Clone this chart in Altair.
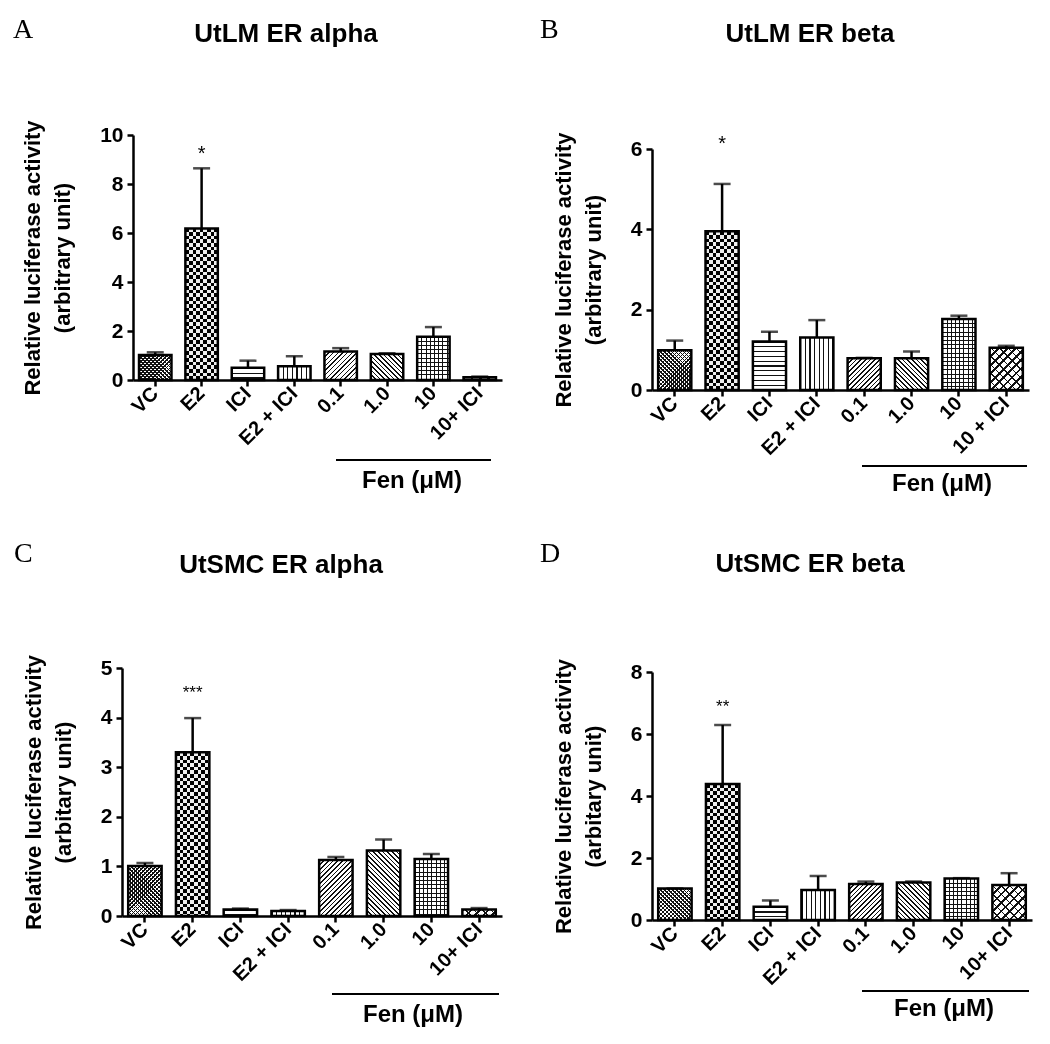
import math
import altair as alt
import pandas as pd

# ---------------- data ----------------
cats_A = ["VC", "E2", "ICI", "E2 + ICI", "0.1", "1.0", "10", "10+ ICI"]
cats_B = ["VC", "E2", "ICI", "E2 + ICI", "0.1", "1.0", "10", "10 + ICI"]
cats_C = ["VC", "E2", "ICI", "E2 + ICI", "0.1", "1.0", "10", "10+ ICI"]
cats_D = ["VC", "E2", "ICI", "E2 + ICI", "0.1", "1.0", "10", "10+ ICI"]

mean_A = [1.02, 6.18, 0.50, 0.56, 1.16, 1.06, 1.77, 0.11]
err_A = [0.11, 2.46, 0.29, 0.41, 0.14, 0.03, 0.39, 0.03]
mean_B = [0.99, 3.95, 1.21, 1.31, 0.79, 0.79, 1.77, 1.05]
err_B = [0.24, 1.18, 0.24, 0.43, 0.01, 0.17, 0.08, 0.05]
mean_C = [1.01, 3.30, 0.13, 0.10, 1.13, 1.32, 1.15, 0.13]
err_C = [0.06, 0.69, 0.02, 0.02, 0.06, 0.22, 0.10, 0.03]
mean_D = [1.02, 4.39, 0.43, 0.97, 1.16, 1.21, 1.34, 1.13]
err_D = [0.00, 1.90, 0.20, 0.45, 0.08, 0.03, 0.01, 0.38]

star_text = ["*", "*", "***", "**"]
star_y = [9.45, 6.27, 4.59, 7.03]

yticks_A = [0, 2, 4, 6, 8, 10]
yticks_B = [0, 2, 4, 6]
yticks_C = [0, 1, 2, 3, 4, 5]
yticks_D = [0, 2, 4, 6, 8]

titles = ["UtLM ER alpha", "UtLM ER beta", "UtSMC ER alpha", "UtSMC ER beta"]
letters = ["A", "B", "C", "D"]
ytitle_top = ["Relative luciferase activity", "(arbitrary unit)"]
ytitle_bottom = ["Relative luciferase activity", "(arbitary unit)"]
fen_label = "Fen (\u03bcM)"

# ---------------- styling ----------------
SANS = "Liberation Sans"
SERIF = "Liberation Serif"
INK = "#111111"
CLEAR = "rgba(0,0,0,0)"
PI, PO = 0.30, 0.13

# pattern per bar position: (direction, period px, line px, background, blend)
PATTERNS = [
    [("d1", 2.8, 0.95, "white", None), ("d2", 2.8, 0.95, CLEAR, None)],
    [("h", 7.2, 3.6, "white", None), ("v", 7.2, 3.6, "white", "difference")],
    [("h", 4.8, 1.2, "white", None)],
    [("v", 4.6, 1.2, "white", None)],
    [("d1", 3.3, 1.1, "white", None)],
    [("d2", 3.3, 1.1, "white", None)],
    [("h", 4.2, 1.0, "white", None), ("v", 4.2, 1.0, CLEAR, None)],
    [("d1", 6.0, 1.8, "white", None), ("d2", 6.0, 1.0, CLEAR, None)],
]


def stripe_gradient(kind, w, h, period, lw, bg):
    h = max(h, 0.5)
    if kind == "h":
        x1, y1, x2, y2, S = 0, 0, 0, 1, h
    elif kind == "v":
        x1, y1, x2, y2, S = 0, 0, 1, 0, w
    else:
        k = (w + h) / (w * w + h * h)
        S = (w + h) / math.sqrt(2)
        if kind == "d1":
            x1, y1, x2, y2 = 0, 0, k * w, k * h
        else:
            x1, y1, x2, y2 = 0, 1, k * w, 1 - k * h
    stops = []
    n = 0
    while n * period < S:
        a = n * period
        for off, col in ((a, INK), (a + lw, INK), (a + lw, bg), (a + period, bg)):
            stops.append({"offset": round(min(off / S, 1.0), 5), "color": col})
        n += 1
    return {"gradient": "linear", "x1": x1, "y1": y1, "x2": x2, "y2": y2,
            "stops": stops}


def make_panel(cats, mean, err, stxt, sy, sfs, dmax, ticks, ytl, W, H, top,
               pos, xoff=0):
    df = pd.DataFrame({"cat": cats, "mean": mean,
                       "hi": [m + e for m, e in zip(mean, err)]})
    xaxis = alt.Axis(title=None, labelAngle=-45, labelAlign="right",
                     labelBaseline="middle", labelFontSize=20, labelPadding=4,
                     labelLimit=0)
    X = alt.X("cat:N", sort=cats, axis=xaxis,
              scale=alt.Scale(domain=cats, paddingInner=PI, paddingOuter=PO,
                              range=[xoff, xoff + W]))
    yscale = alt.Scale(domain=[0, dmax], nice=False, range=[H, top])
    yaxis = alt.Axis(values=ticks, format="d", title=ytl, labelFontSize=21,
                     labelPadding=4, titleFontSize=22, titleLineHeight=30,
                     titlePadding=25, offset=-xoff)

    def Y(field):
        return alt.Y(field, scale=yscale, axis=yaxis)

    step = W / (len(cats) - PI + 2 * PO)
    bw = step * (1 - PI)
    ppu = (H - top) / dmax

    layers = []
    for i, c in enumerate(cats):
        h = mean[i] * ppu
        for kind, period, lw, bg, blend in PATTERNS[i]:
            g = stripe_gradient(kind, bw, h, period, lw, bg)
            kw = {"fill": g}
            if blend:
                kw["blend"] = blend
            layers.append(
                alt.Chart(df).transform_filter(alt.datum.cat == c)
                .mark_bar(**kw).encode(x=X, y=Y("mean:Q")))

    layers.append(alt.Chart(df).mark_rule(color="black", strokeWidth=2.5)
                  .encode(x=X, y=Y("mean:Q"), y2="hi:Q"))
    layers.append(alt.Chart(df).mark_tick(color="black", thickness=2.5, size=17)
                  .encode(x=X, y=Y("hi:Q")))
    layers.append(alt.Chart(df).mark_bar(fillOpacity=0, stroke="black",
                                         strokeWidth=2.5)
                  .encode(x=X, y=Y("mean:Q")))

    sdf = pd.DataFrame({"cat": ["E2"], "y": [sy], "t": [stxt]})
    layers.append(alt.Chart(sdf).mark_text(font=SANS, fontSize=sfs,
                                           baseline="alphabetic",
                                           dy=0.58 * sfs, color="black")
                  .encode(x=X, y=Y("y:Q"), text="t:N"))

    (lx, ly, tx, ty, fx1, fx2, fy, ftx, fty, letter, title) = pos
    layers.append(alt.Chart(pd.DataFrame({"t": [letter]}))
                  .mark_text(font=SERIF, fontSize=28, align="left",
                             baseline="alphabetic", color="black")
                  .encode(x=alt.value(lx + xoff), y=alt.value(ly), text="t:N"))
    layers.append(alt.Chart(pd.DataFrame({"t": [title]}))
                  .mark_text(font=SANS, fontSize=26, fontWeight="bold",
                             align="center", baseline="alphabetic",
                             color="black")
                  .encode(x=alt.value(tx + xoff), y=alt.value(ty), text="t:N"))
    fdf = pd.DataFrame({"t": [fen_label]})
    layers.append(alt.Chart(fdf).mark_rule(color="black", strokeWidth=2)
                  .encode(x=alt.value(fx1 + xoff), x2=alt.value(fx2 + xoff),
                          y=alt.value(fy)))
    layers.append(alt.Chart(fdf)
                  .mark_text(font=SANS, fontSize=24, fontWeight="bold",
                             align="center", baseline="alphabetic",
                             color="black")
                  .encode(x=alt.value(ftx + xoff), y=alt.value(fty),
                          text="t:N"))

    return alt.layer(*layers).properties(width=W + xoff, height=H)


pA = make_panel(cats_A, mean_A, err_A, star_text[0], star_y[0], 20, 10,
                yticks_A, ytitle_top, 369, 245, 0,
                (-120, -97, 153, -93, 203, 358, 325, 279, 353,
                 letters[0], titles[0]), xoff=11)
pB = make_panel(cats_B, mean_B, err_B, star_text[1], star_y[1], 20, 6,
                yticks_B, ytitle_top, 377, 255, 14,
                (-112, -97, 158, -93, 210, 375, 331, 290, 356,
                 letters[1], titles[1]))
pC = make_panel(cats_C, mean_C, err_C, star_text[2], star_y[2], 17, 5,
                yticks_C, ytitle_bottom, 380, 248, 0,
                (-108, -106, 159, -95, 210, 377, 326, 291, 354,
                 letters[2], titles[2]))
pD = make_panel(cats_D, mean_D, err_D, star_text[3], star_y[3], 17, 8,
                yticks_D, ytitle_bottom, 380, 253, 5,
                (-112, -105, 158, -95, 210, 377, 324, 292, 349,
                 letters[3], titles[3]))

chart = (
    alt.concat(pA, pB, pC, pD, columns=2, align="none",
               spacing={"row": 44, "column": 38})
    .properties(padding={"left": 5, "top": 8, "right": 5, "bottom": 5})
    .configure_axis(labelFont=SANS, labelFontWeight="bold", labelColor="black",
                    titleFont=SANS, titleFontWeight="bold", titleColor="black",
                    domainColor="black", tickColor="black", domainWidth=2.5,
                    tickWidth=2.5, tickSize=6, grid=False)
    .configure_view(stroke=None)
)

chart.save("out.html", embed_options={"renderer": "svg", "actions": False})
